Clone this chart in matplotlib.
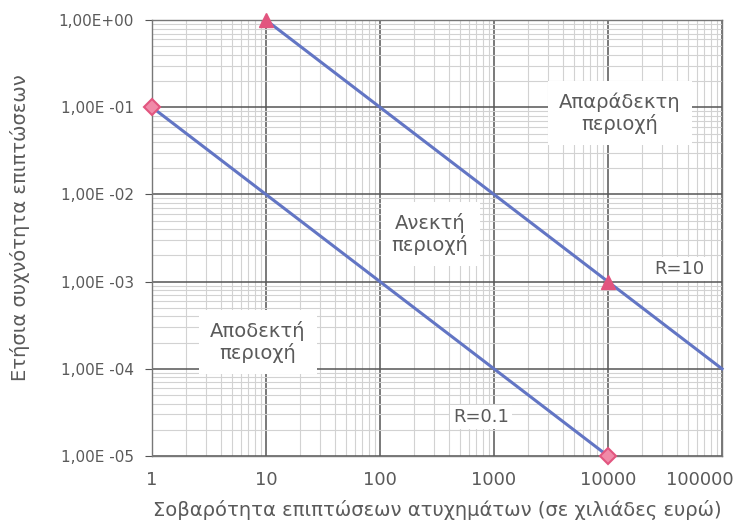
import matplotlib
matplotlib.use("Agg")
import matplotlib.pyplot as plt
from matplotlib.ticker import LogLocator, NullFormatter
from matplotlib.transforms import ScaledTranslation

plt.rcParams['font.family'] = ['DejaVu Sans']

# Data
r10_x = [10, 100, 1000, 10000, 100000]
r10_y = [1, 0.1, 0.01, 0.001, 0.0001]
r01_x = [1, 10, 100, 1000, 10000]
r01_y = [0.1, 0.01, 0.001, 0.0001, 0.00001]
x_ticks = [1, 10, 100, 1000, 10000, 100000]
x_tick_labels = ["1", "10", "100", "1000", "10000", "100000"]
y_ticks = [1e-5, 1e-4, 1e-3, 1e-2, 1e-1, 1]
y_tick_labels = ["1,00E -05", "1,00E -04", "1,00E -03", "1,00E -02", "1,00E -01", "1,00E+00"]

txt = "#5a5a5a"
line_c = "#6275c4"
mark_c = "#e2557f"

fig = plt.figure(figsize=(7.39, 5.29), dpi=100)
ax = fig.add_axes([0.2057, 0.138, 0.7713, 0.824])
ax.set_xscale('log')
ax.set_yscale('log')
ax.set_xlim(1, 100000)
ax.set_ylim(1e-5, 1)

ax.xaxis.set_minor_locator(LogLocator(base=10, subs=range(2, 10)))
ax.yaxis.set_minor_locator(LogLocator(base=10, subs=range(2, 10)))
ax.xaxis.set_minor_formatter(NullFormatter())
ax.yaxis.set_minor_formatter(NullFormatter())
ax.grid(which='minor', color='#d2d2d2', linewidth=0.8)
ax.grid(which='major', color='#555555', linewidth=1.1)
ax.set_axisbelow(True)

ax.plot(r10_x, r10_y, color=line_c, linewidth=2.2, marker='^', markersize=10,
        markevery=[0, 3], markerfacecolor=mark_c, markeredgecolor=mark_c, zorder=3,
        clip_on=False)
ax.plot(r01_x, r01_y, color=line_c, linewidth=2.2, marker='D', markersize=8,
        markevery=[0, 4], markerfacecolor='#f08aa8', markeredgecolor=mark_c,
        markeredgewidth=1.5, zorder=3, clip_on=False)

ax.set_xticks(x_ticks)
ax.set_xticklabels(x_tick_labels)
ax.set_yticks(y_ticks)
ax.set_yticklabels(y_tick_labels)
ax.tick_params(axis='x', which='both', length=0, pad=11, labelsize=13, labelcolor=txt)
ax.tick_params(axis='y', which='major', length=5, color='#555555', pad=8, labelsize=11, labelcolor=txt)
ax.tick_params(axis='y', which='minor', length=0)

# last x label shifted left to stay inside the figure
lab = ax.get_xticklabels()[-1]
lab.set_transform(lab.get_transform() + ScaledTranslation(-22 / 100, 0, fig.dpi_scale_trans))

for s in ax.spines.values():
    s.set_color('#777777')
    s.set_linewidth(1.0)

box = dict(facecolor='white', edgecolor='none', pad=8)
ax.text(12700, 0.086, "Απαράδεκτη\nπεριοχή", ha='center', va='center', fontsize=14,
        color=txt, bbox=box, linespacing=1.15)
ax.text(275, 0.0035, "Ανεκτή\nπεριοχή", ha='center', va='center', fontsize=14,
        color=txt, bbox=box, linespacing=1.15)
ax.text(8.5, 0.000203, "Αποδεκτή\nπεριοχή", ha='center', va='center', fontsize=14,
        color=txt, bbox=box, linespacing=1.15)
ax.text(42000, 0.0014, "R=10", ha='center', va='center', fontsize=13,
        color=txt, bbox=dict(facecolor='white', edgecolor='none', pad=2))
ax.text(770, 0.000028, "R=0.1", ha='center', va='center', fontsize=13,
        color=txt, bbox=dict(facecolor='white', edgecolor='none', pad=2))

ax.set_xlabel("Σοβαρότητα επιπτώσεων ατυχημάτων (σε χιλιάδες ευρώ)", fontsize=14,
              color=txt)
ax.set_ylabel("Ετήσια συχνότητα επιπτώσεων", fontsize=14, color=txt)
ax.xaxis.set_label_coords(0.5, -0.101)
ax.yaxis.set_label_coords(-0.214, 0.523)

fig.savefig("out.png", dpi=100)
